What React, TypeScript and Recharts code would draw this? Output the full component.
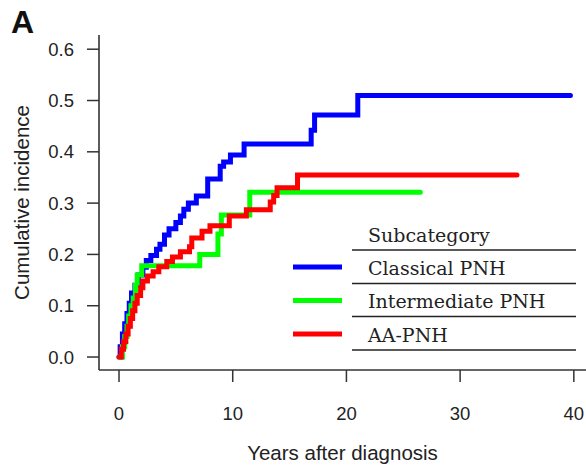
import { Label, Legend, Line, LineChart, XAxis, YAxis } from "recharts";

// cumulative incidence
const classicalYears = [0, 0.1, 0.3, 0.5, 0.7, 0.9, 1.1, 1.4, 1.7, 2.1, 2.4, 2.8, 3.3, 3.6, 4.0, 4.4, 5.0, 5.4, 5.7, 6.1, 6.8, 7.8, 8.9, 9.2, 9.8, 11.0, 16.9, 17.2, 21.0, 39.7];
const classicalInc = [0, 0.02, 0.045, 0.065, 0.085, 0.105, 0.125, 0.14, 0.16, 0.175, 0.188, 0.198, 0.21, 0.22, 0.238, 0.25, 0.262, 0.275, 0.288, 0.3, 0.314, 0.347, 0.372, 0.38, 0.394, 0.415, 0.442, 0.472, 0.51, 0.51];

const intermediateYears = [0, 0.3, 0.5, 0.7, 0.85, 1.05, 1.25, 1.45, 1.6, 2.0, 7.1, 8.7, 9.0, 11.5, 26.5];
const intermediateInc = [0, 0.02, 0.04, 0.06, 0.08, 0.1, 0.115, 0.14, 0.16, 0.178, 0.2, 0.24, 0.277, 0.321, 0.321];

const aaYears = [0, 0.2, 0.4, 0.6, 0.8, 1.0, 1.2, 1.4, 1.6, 1.9, 2.1, 2.5, 3.0, 3.5, 4.2, 4.7, 5.4, 6.2, 6.4, 7.3, 8.0, 9.7, 11.2, 13.3, 13.6, 13.9, 15.7, 35.0];
const aaInc = [0, 0.015, 0.03, 0.045, 0.06, 0.075, 0.09, 0.105, 0.12, 0.135, 0.148, 0.158, 0.166, 0.176, 0.186, 0.195, 0.205, 0.215, 0.232, 0.245, 0.256, 0.275, 0.287, 0.302, 0.315, 0.33, 0.355, 0.355];

const subcategories = ["Classical PNH", "Intermediate PNH", "AA-PNH"];
const xTicks = [0, 10, 20, 30, 40];
const yTicks = [0, 0.1, 0.2, 0.3, 0.4, 0.5, 0.6];

const toRows = (years: number[], inc: number[]) => years.map((t, i) => ({ t, v: inc[i] }));

const SANS = "'Liberation Sans', Arial, sans-serif";
const SERIF = "'DejaVu Serif', serif";
const INK = "#222";
const AXIS = "#333";

function YTitle({ viewBox }: any) {
  const cy = viewBox ? viewBox.y + viewBox.height / 2 : 202;
  const cx = 29;
  return (
    <text
      x={cx}
      y={cy}
      transform={`rotate(-90 ${cx} ${cy})`}
      textAnchor="middle"
      fontFamily={SANS}
      fontSize={20.5}
      fill={INK}
    >
      Cumulative incidence
    </text>
  );
}

function XTitle({ viewBox }: any) {
  const cx = viewBox ? viewBox.x + viewBox.width / 2 : 342;
  const y = viewBox ? viewBox.y + 90 : 460;
  return (
    <text x={cx} y={y} textAnchor="middle" fontFamily={SANS} fontSize={20.5} fill={INK}>
      Years after diagnosis
    </text>
  );
}

function SubcategoryLegend({ payload }: any) {
  // keep the legend in the figure's order, not the payload's
  const items = subcategories.map((name) => (payload ?? []).find((p: any) => p.value === name)).filter(Boolean);
  const rowY = [267, 300.5, 334];
  const rules = [250, 283.5, 316.5, 350];
  return (
    <svg width={586} height={467} style={{ display: "block" }}>
      <text x={368} y={242} fontFamily={SERIF} fontSize={19} fill={INK}>
        Subcategory
      </text>
      {rules.map((y) => (
        <line key={y} x1={352} x2={576} y1={y} y2={y} stroke={INK} strokeWidth={1.5} />
      ))}
      {items.map((item: any, i: number) => (
        <g key={item.value}>
          <line x1={293} x2={342} y1={rowY[i]} y2={rowY[i]} stroke={item.color} strokeWidth={5} />
          <text x={368} y={rowY[i] + 7.5} fontFamily={SERIF} fontSize={19} fill={INK}>
            {item.value}
          </text>
        </g>
      ))}
    </svg>
  );
}

export default function App() {
  return (
    <div style={{ position: "absolute", left: 0, top: 0, width: 586, height: 467, background: "#fff" }}>
      <div
        style={{
          position: "absolute",
          left: 11,
          top: 6,
          fontFamily: SANS,
          fontWeight: 700,
          fontSize: 32,
          lineHeight: 1,
          color: "#111",
        }}
      >
        A
      </div>
      <LineChart width={586} height={467} margin={{ top: 35, right: 0, left: 0, bottom: 0 }}>
        <XAxis
          type="number"
          dataKey="t"
          domain={[-1.76, 41.07]}
          ticks={xTicks}
          allowDataOverflow
          height={97}
          tickSize={12}
          tickMargin={25}
          tick={{ fontSize: 18.5, fill: INK, fontFamily: SANS }}
          tickLine={{ stroke: AXIS, strokeWidth: 1.5 }}
          axisLine={{ stroke: AXIS, strokeWidth: 1.6 }}
        >
          <Label content={<XTitle />} />
        </XAxis>
        <YAxis
          type="number"
          domain={[-0.0253, 0.6277]}
          ticks={yTicks}
          allowDataOverflow
          width={99}
          tickSize={12}
          tickMargin={13}
          tickFormatter={(v) => Number(v).toFixed(1)}
          tick={{ fontSize: 18.5, fill: INK, fontFamily: SANS }}
          tickLine={{ stroke: AXIS, strokeWidth: 1.5 }}
          axisLine={{ stroke: AXIS, strokeWidth: 1.6 }}
        >
          <Label content={<YTitle />} />
        </YAxis>
        <Legend
          layout="horizontal"
          verticalAlign="middle"
          align="center"
          content={<SubcategoryLegend />}
          wrapperStyle={{ left: 0, top: 0, width: 586, height: 467, pointerEvents: "none" }}
        />
        <Line
          data={toRows(classicalYears, classicalInc)}
          dataKey="v"
          name={subcategories[0]}
          type="stepAfter"
          stroke="#0000ff"
          strokeWidth={5}
          strokeLinecap="round"
          dot={false}
          activeDot={false}
          isAnimationActive={false}
        />
        <Line
          data={toRows(intermediateYears, intermediateInc)}
          dataKey="v"
          name={subcategories[1]}
          type="stepAfter"
          stroke="#00ff00"
          strokeWidth={5}
          strokeLinecap="round"
          dot={false}
          activeDot={false}
          isAnimationActive={false}
        />
        <Line
          data={toRows(aaYears, aaInc)}
          dataKey="v"
          name={subcategories[2]}
          type="stepAfter"
          stroke="#ff0000"
          strokeWidth={5}
          strokeLinecap="round"
          dot={false}
          activeDot={false}
          isAnimationActive={false}
        />
      </LineChart>
    </div>
  );
}
